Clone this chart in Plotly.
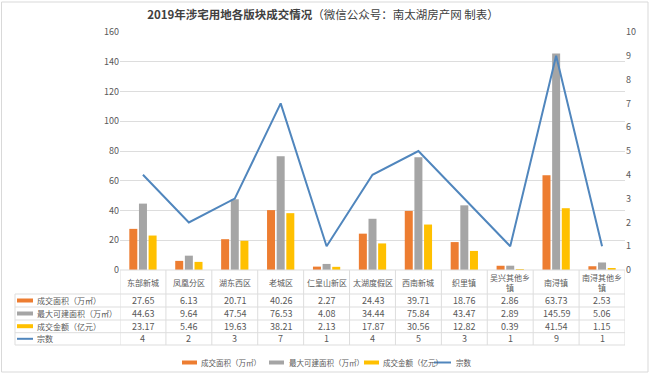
import plotly.graph_objects as go

categories = ['东部新城', '凤凰分区', '湖东西区', '老城区', '仁皇山新区', '太湖度假区',
              '西南新城', '织里镇', '吴兴其他乡镇', '南浔镇', '南浔其他乡镇']
category_labels = ['东部新城', '凤凰分区', '湖东西区', '老城区', '仁皇山新区', '太湖度假区',
                   '西南新城', '织里镇', '吴兴其他乡<br>镇', '南浔镇', '南浔其他乡<br>镇']
deal_area = [27.65, 6.13, 20.71, 40.26, 2.27, 24.43, 39.71, 18.76, 2.86, 63.73, 2.53]
max_build_area = [44.63, 9.64, 47.54, 76.53, 4.08, 34.44, 75.84, 43.47, 2.89, 145.59, 5.06]
deal_amount = [23.17, 5.46, 19.63, 38.21, 2.13, 17.87, 30.56, 12.82, 0.39, 41.54, 1.15]
deal_count = [4, 2, 3, 7, 1, 4, 5, 3, 1, 9, 1]
series_names = ['成交面积（万㎡）', '最大可建面积（万㎡）', '成交金额（亿元）', '宗数']
left_ticks = [0, 20, 40, 60, 80, 100, 120, 140, 160]
right_ticks = [0, 1, 2, 3, 4, 5, 6, 7, 8, 9, 10]

colors = ['#ED7D31', '#A5A5A5', '#FFC000', '#5086BD']
FONT = 'Noto Sans CJK SC'
TXT = '#595959'
GRID = '#DDDDDD'

W, H = 650, 374
L, R, T, B = 120, 625, 32, 270


def px(xp):
    return (xp - L) / (R - L)


def py(yp):
    return (B - yp) / (B - T)


fig = go.Figure()
for vals, name, c in zip([deal_area, max_build_area, deal_amount], series_names[:3], colors[:3]):
    fig.add_trace(go.Bar(x=categories, y=vals, name=name, marker_color=c,
                         marker_line_width=0, showlegend=False))
fig.add_trace(go.Scatter(x=categories, y=deal_count, name=series_names[3], yaxis='y2',
                         mode='lines', line=dict(color=colors[3], width=2), showlegend=False))

shapes = []
annotations = []

# table grid
row_lines = [294, 307, 320, 332.7, 345]
for yl in row_lines:
    shapes.append(dict(type='line', xref='paper', yref='paper', x0=px(15), x1=px(R),
                       y0=py(yl), y1=py(yl), line=dict(color=GRID, width=1)))
shapes.append(dict(type='line', xref='paper', yref='paper', x0=px(15), x1=px(15),
                   y0=py(294), y1=py(345), line=dict(color=GRID, width=1)))
for i in range(len(categories) + 1):
    shapes.append(dict(type='line', xref='x', yref='paper', x0=i - 0.5, x1=i - 0.5,
                       y0=py(270), y1=py(345), line=dict(color=GRID, width=1)))
shapes.append(dict(type='line', xref='paper', yref='paper', x0=0, x1=1,
                   y0=0, y1=0, line=dict(color=GRID, width=1)))

# category header
for i, lab in enumerate(category_labels):
    annotations.append(dict(x=i, y=py(282.5), xref='x', yref='paper', text=lab,
                            showarrow=False, font=dict(size=8, color=TXT, family=FONT),
                            xanchor='center', yanchor='middle', borderpad=0))

# data rows
row_y = [300.5, 313.5, 326.2, 338.8]
row_vals = [deal_area, max_build_area, deal_amount, deal_count]
for r, (yy, vals, name, c) in enumerate(zip(row_y, row_vals, series_names, colors)):
    if r < 3:
        shapes.append(dict(type='rect', xref='paper', yref='paper', x0=px(17), x1=px(33),
                           y0=py(yy - 2), y1=py(yy + 2), fillcolor=c, line=dict(width=0)))
    else:
        shapes.append(dict(type='line', xref='paper', yref='paper', x0=px(17), x1=px(33),
                           y0=py(yy), y1=py(yy), line=dict(color=c, width=2)))
    annotations.append(dict(x=px(36), y=py(yy), xref='paper', yref='paper', text=name,
                            showarrow=False, font=dict(size=8, color=TXT, family=FONT),
                            xanchor='left', yanchor='middle', borderpad=0))
    for i, v in enumerate(vals):
        t = f'{v:.2f}' if r < 3 else f'{v}'
        annotations.append(dict(x=i, y=py(yy), xref='x', yref='paper', text=t,
                                showarrow=False, font=dict(size=9, color=TXT, family=FONT),
                                xanchor='center', yanchor='middle', borderpad=0))

# custom legend
leg_y = 362.5
leg_items = [(182, 200), (269, 288), (364, 382), (434, 455)]
for k, ((sx, tx), name, c) in enumerate(zip(leg_items, series_names, colors)):
    if k < 3:
        shapes.append(dict(type='rect', xref='paper', yref='paper', x0=px(sx), x1=px(sx + 15),
                           y0=py(leg_y - 2), y1=py(leg_y + 2), fillcolor=c, line=dict(width=0)))
    else:
        shapes.append(dict(type='line', xref='paper', yref='paper', x0=px(sx), x1=px(sx + 17),
                           y0=py(leg_y), y1=py(leg_y), line=dict(color=c, width=2)))
    annotations.append(dict(x=px(tx), y=py(leg_y), xref='paper', yref='paper', text=name,
                            showarrow=False, font=dict(size=7.5, color=TXT, family=FONT),
                            xanchor='left', yanchor='middle', borderpad=0))

# outer border
shapes.append(dict(type='rect', xref='paper', yref='paper', x0=px(1.5), x1=px(648),
                   y0=py(2), y1=py(372), line=dict(color='#D9D9D9', width=1),
                   fillcolor='rgba(0,0,0,0)', layer='below'))

fig.update_layout(
    width=W, height=H,
    margin=dict(l=L, r=W - R, t=T, b=H - B, pad=0),
    paper_bgcolor='white', plot_bgcolor='white',
    font=dict(family=FONT, color=TXT),
    title=dict(text='<b>2019年涉宅用地各版块成交情况</b>（微信公众号：南太湖房产网 制表）',
               x=323 / W, xanchor='center', xref='container',
               y=1 - 14.5 / H, yanchor='middle', yref='container',
               font=dict(size=11.5, color='#404040', family=FONT)),
    barmode='group', bargap=0.37, bargroupgap=0.17,
    xaxis=dict(type='category', range=[-0.5, 10.5], showticklabels=False,
               showgrid=False, zeroline=False, showline=False, ticks=''),
    yaxis=dict(range=[0, 160], tickvals=left_ticks, showgrid=True, gridcolor=GRID,
               gridwidth=1, zeroline=False, showline=False, ticks='',
               tickfont=dict(size=9, color=TXT, family=FONT)),
    yaxis2=dict(range=[0, 10], tickvals=right_ticks, overlaying='y', side='right',
                showgrid=False, zeroline=False, showline=False, ticks='',
                tickfont=dict(size=9, color=TXT, family=FONT)),
    shapes=shapes, annotations=annotations,
)

fig.write_html('out.html', config={'displayModeBar': False},
               post_script="document.body.style.margin='0';document.body.style.overflow='hidden';")
